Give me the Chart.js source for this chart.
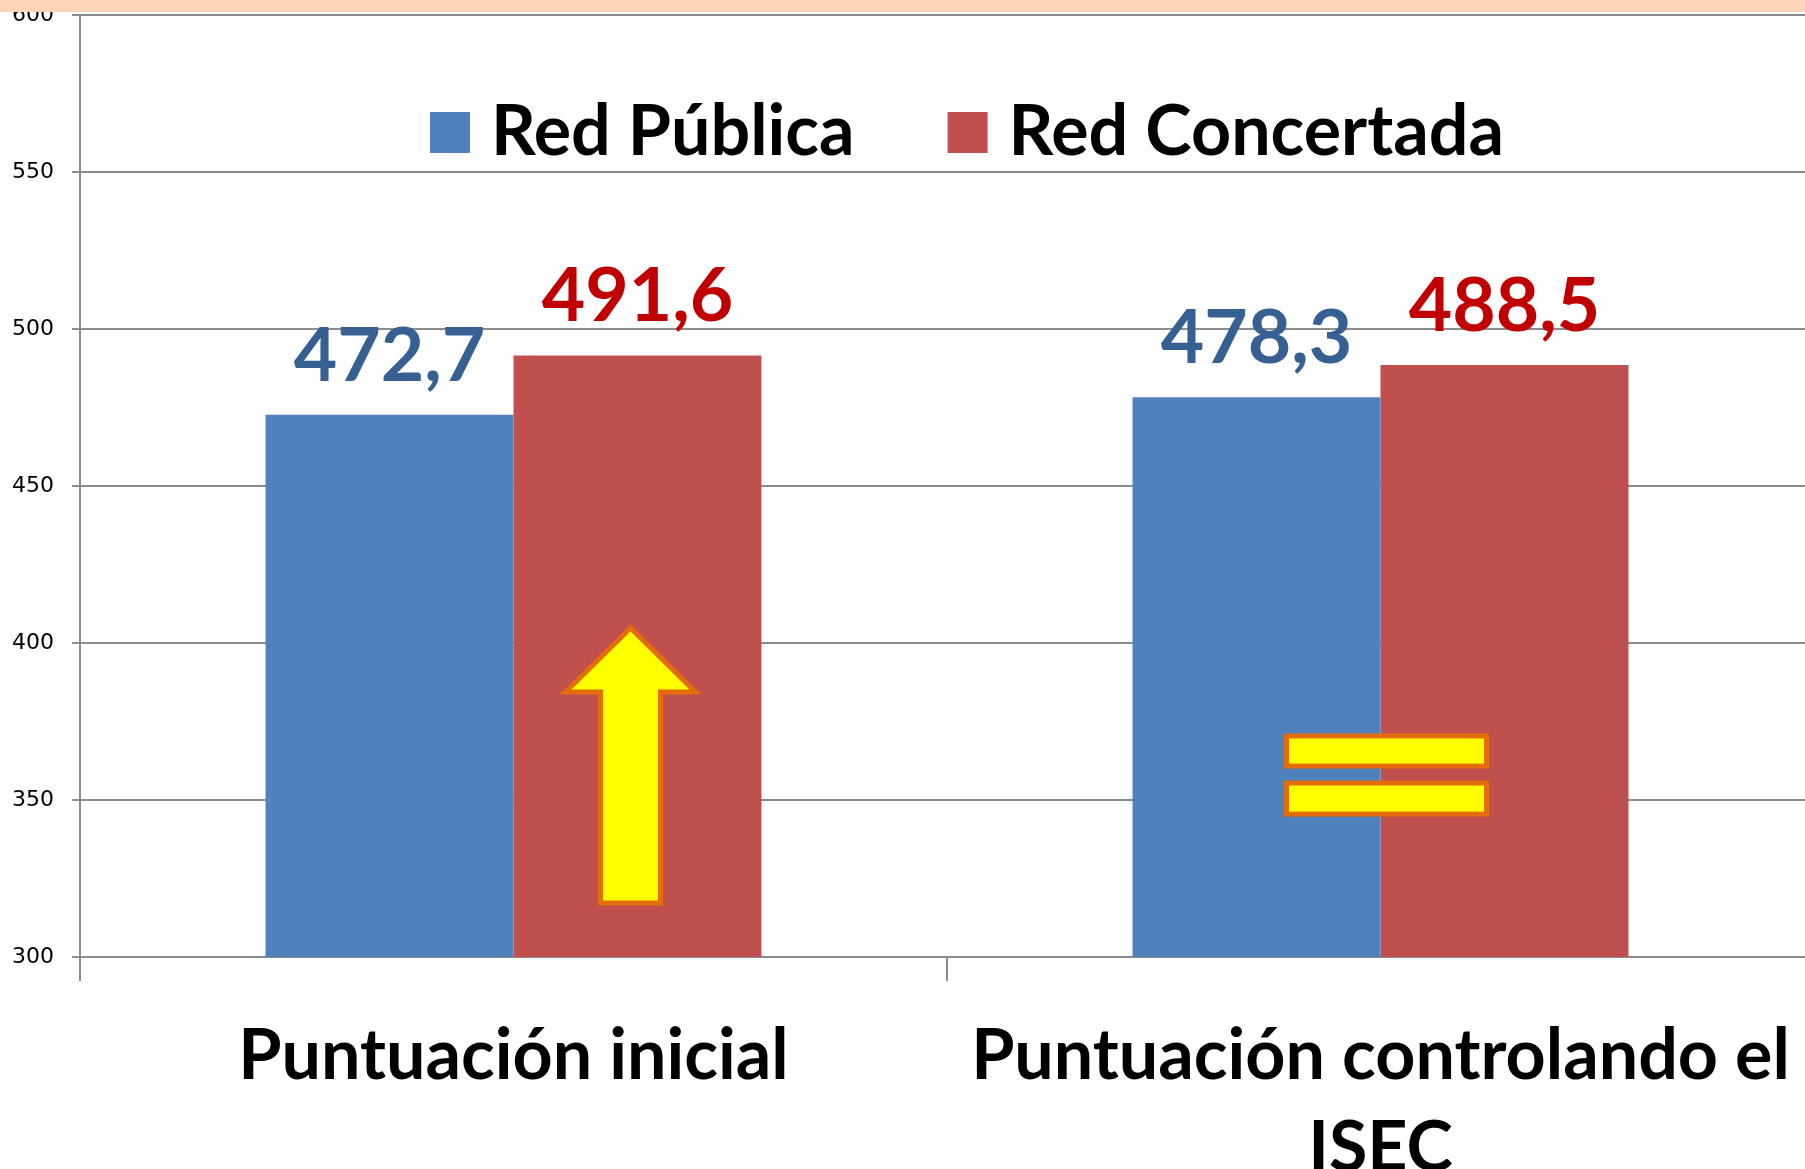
<!DOCTYPE html>
<html lang="es">
<head>
<meta charset="utf-8">
<title>Red Pública vs Red Concertada</title>
<script src="https://cdn.jsdelivr.net/npm/chart.js@4.4.1/dist/chart.umd.min.js"></script>
<style>
    html, body { margin: 0; padding: 0; background: #fff; overflow: hidden; }
    #wrap { position: relative; width: 1814px; height: 1169px; }
    #band { position: absolute; left: 0; top: 0; width: 100%; height: 12px; background: #FCD5B4; z-index: 2; }
</style>
</head>
<body>
<div id="wrap">
    <div id="band"></div>
    <canvas id="chart" width="1814" height="1169"></canvas>
</div>
<script>
// Data
const categories = ['Puntuación inicial', ['Puntuación controlando el', 'ISEC']];
const seriesNames = ['Red Pública', 'Red Concertada'];
const redPublica = [472.7, 478.3];
const redConcertada = [491.6, 488.5];
const yMin = 300;
const yMax = 600;
const yStep = 50;

const barColors = ['#4F81BD', '#C0504D'];
const labelColors = ['#376092', '#C00000'];
const gridColor = '#8C8C8C';
const bigFont = 'Lato';

const fmt = v => v.toFixed(1).replace('.', ',');

// value labels above each bar
const valueLabels = {
    id: 'valueLabels',
    afterDatasetsDraw(chart) {
        const ctx = chart.ctx;
        ctx.save();
        ctx.font = `bold 75px ${bigFont}`;
        ctx.textAlign = 'center';
        ctx.textBaseline = 'alphabetic';
        chart.data.datasets.forEach((ds, i) => {
            chart.getDatasetMeta(i).data.forEach((bar, j) => {
                ctx.fillStyle = labelColors[i];
                ctx.fillText(fmt(ds.data[j]), bar.x, bar.y - 34);
            });
        });
        ctx.restore();
    }
};

// yellow arrow / equals sign drawn over the bars
const markers = {
    id: 'markers',
    afterDatasetsDraw(chart) {
        const ctx = chart.ctx;
        const y = chart.scales.y;
        ctx.save();
        ctx.fillStyle = '#FFFF00';
        ctx.strokeStyle = '#E46C0A';
        ctx.lineWidth = 5;
        ctx.lineJoin = 'miter';

        // up arrow on the first red bar
        const rb = chart.getDatasetMeta(1).data[0];
        const cx = rb.x - 7;
        const tip = y.getPixelForValue(404.8);
        const head = y.getPixelForValue(384.4);
        const foot = y.getPixelForValue(317.2);
        ctx.beginPath();
        ctx.moveTo(cx, tip);
        ctx.lineTo(cx + 65, head);
        ctx.lineTo(cx + 30, head);
        ctx.lineTo(cx + 30, foot);
        ctx.lineTo(cx - 30, foot);
        ctx.lineTo(cx - 30, head);
        ctx.lineTo(cx - 65, head);
        ctx.closePath();
        ctx.fill();
        ctx.stroke();

        // equals sign across the second pair of bars
        const bb = chart.getDatasetMeta(0).data[1];
        const ex = bb.x + bb.width / 2 + 6;
        [[370.4, 360.8], [355.4, 345.5]].forEach(([top, bottom]) => {
            const t = y.getPixelForValue(top);
            const b = y.getPixelForValue(bottom);
            ctx.fillRect(ex - 100, t, 200, b - t);
            ctx.strokeRect(ex - 100, t, 200, b - t);
        });
        ctx.restore();
    }
};

// legend drawn inside the plot area
const innerLegend = {
    id: 'innerLegend',
    afterDraw(chart) {
        const ctx = chart.ctx;
        const area = chart.chartArea;
        ctx.save();
        ctx.font = `bold 70px ${bigFont}`;
        const box = 40, gap = 21, itemGap = 93;
        const items = chart.data.datasets.map(ds => ({
            label: ds.label, color: ds.backgroundColor, w: ctx.measureText(ds.label).width
        }));
        const total = items.reduce((s, it) => s + box + gap + it.w, 0) + itemGap * (items.length - 1);
        let x = (area.left + area.right) / 2 + 20 - total / 2;
        items.forEach(it => {
            ctx.fillStyle = it.color;
            ctx.fillRect(x, 112, box, box + 1);
            x += box + gap;
            ctx.fillStyle = '#000';
            ctx.textBaseline = 'alphabetic';
            ctx.fillText(it.label, x, 155);
            x += it.w + itemGap;
        });
        ctx.restore();
    }
};

new Chart(document.getElementById('chart'), {
    type: 'bar',
    data: {
        labels: categories,
        datasets: [
            { label: seriesNames[0], data: redPublica, backgroundColor: barColors[0] },
            { label: seriesNames[1], data: redConcertada, backgroundColor: barColors[1] }
        ]
    },
    options: {
        responsive: false,
        animation: false,
        devicePixelRatio: 1,
        layout: { padding: { top: 15, right: 0, left: 0, bottom: 0 } },
        datasets: {
            bar: { categoryPercentage: 0.572, barPercentage: 1 }
        },
        plugins: {
            legend: { display: false },
            tooltip: { enabled: false }
        },
        scales: {
            x: {
                grid: {
                    offset: true,
                    drawOnChartArea: false,
                    tickLength: 24,
                    color: gridColor,
                    lineWidth: 2
                },
                border: { color: gridColor, width: 2 },
                ticks: {
                    color: '#000',
                    font: { family: bigFont, size: 70, weight: 'bold', lineHeight: 1.31 },
                    padding: 30,
                    maxRotation: 0,
                    minRotation: 0,
                    autoSkip: false
                },
                afterFit: s => {
                    s.height = 212;
                    s.paddingLeft = 0;
                    s.paddingRight = 0;
                }
            },
            y: {
                min: yMin,
                max: yMax,
                ticks: {
                    stepSize: yStep,
                    color: '#000',
                    font: { family: 'DejaVu Sans', size: 22 },
                    padding: 18
                },
                grid: { color: gridColor, lineWidth: 2, tickLength: 8 },
                border: { color: gridColor, width: 2 },
                afterFit: s => {
                    s.width = 80;
                    s.paddingTop = 0;
                    s.paddingBottom = 0;
                }
            }
        }
    },
    plugins: [markers, valueLabels, innerLegend]
});
</script>
</body>
</html>
